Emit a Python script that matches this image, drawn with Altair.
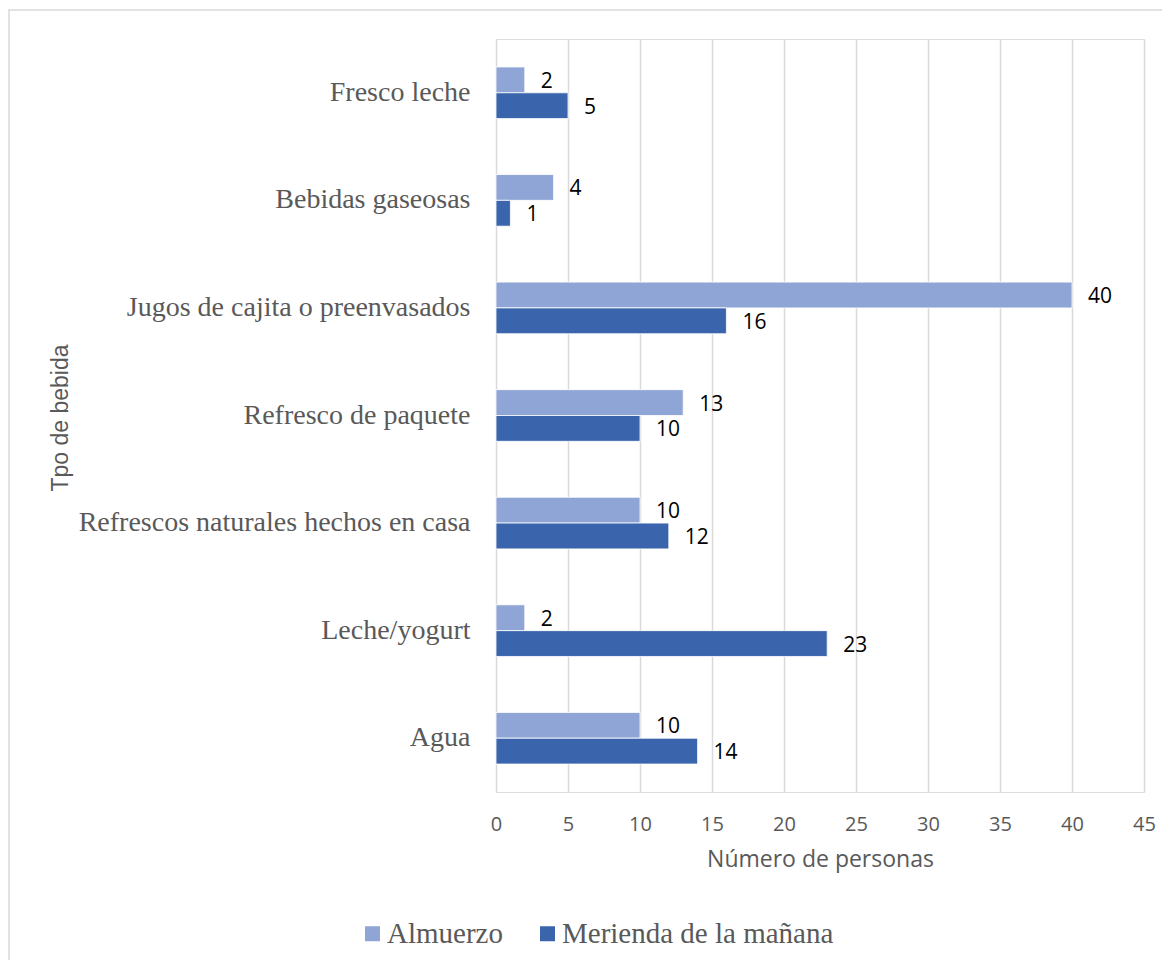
import altair as alt
import pandas as pd

categories = ["Fresco leche", "Bebidas gaseosas", "Jugos de cajita o preenvasados",
              "Refresco de paquete ", "Refrescos naturales hechos en casa",
              "Leche/yogurt", "Agua"]
series = ["Almuerzo", "Merienda de la mañana"]
almuerzo = [2, 4, 40, 13, 10, 2, 10]
merienda = [5, 1, 16, 10, 12, 23, 14]
colors = ["#8FA5D5", "#3A64AC"]

rows = []
for c, a, m in zip(categories, almuerzo, merienda):
    rows.append({"cat": c, "serie": series[0], "val": a})
    rows.append({"cat": c, "serie": series[1], "val": m})
df = pd.DataFrame(rows)

W, H = 648, 753
PL, PT = 488, 31

y_enc = alt.Y("cat:N", sort=categories,
              scale=alt.Scale(paddingInner=0.52, paddingOuter=0.26),
              axis=alt.Axis(title="Tpo de bebida", labelFont="Liberation Serif",
                            labelFontSize=28, labelColor="#595959", labelPadding=26,
                            ticks=False, domain=False, labelLimit=600,
                            titleFont="Liberation Sans", titleFontSize=23,
                            titleFontWeight="normal", titleColor="#595959",
                            titleX=-436, titleY=H / 2 + 2, titleAngle=-90,
                            titleAlign="center", titleBaseline="middle"))
yoff = alt.YOffset("serie:N", sort=series, scale=alt.Scale(paddingInner=0, paddingOuter=0))
x_enc = alt.X("val:Q", scale=alt.Scale(domain=[0, 45]),
              axis=alt.Axis(values=list(range(0, 50, 5)), title="Número de personas",
                            labelFont="Open Sans", labelFontSize=20, labelColor="#595959",
                            labelPadding=22, labelFlush=False, ticks=False, domain=False,
                            gridColor="#d9d9d9", gridWidth=1.5,
                            titleFont="Open Sans", titleFontSize=23,
                            titleFontWeight="normal", titleColor="#595959",
                            titlePadding=14))
color_enc = alt.Color("serie:N", sort=series,
                      scale=alt.Scale(domain=series, range=colors),
                      legend=alt.Legend(title=None, orient="none", direction="horizontal",
                                        legendX=-138, legendY=880,
                                        symbolType="square", symbolSize=225,
                                        symbolStrokeWidth=0, symbolOpacity=1,
                                        labelFont="Liberation Serif", labelFontSize=29,
                                        labelColor="#595959", labelOffset=0,
                                        labelLimit=500, columnPadding=30))

base = alt.Chart(df)
bars = base.mark_bar(stroke="white", strokeWidth=0.8).encode(
    x=x_enc, y=y_enc, yOffset=yoff, color=color_enc)
labels = base.mark_text(align="left", baseline="middle", dx=16, dy=2,
                        font="Open Sans", fontSize=21, color="black").encode(
    x="val:Q", y=alt.Y("cat:N", sort=categories), yOffset=yoff, text="val:Q")

frame = alt.Chart(pd.DataFrame({"k": [0]})).mark_rect(
    fill=None, stroke="#d9d9d9", strokeWidth=1.5).encode(
    x=alt.value(-487), x2=alt.value(690), y=alt.value(-29), y2=alt.value(945))

chart = alt.layer(frame, bars, labels).properties(
    width=W, height=H,
    autosize=alt.AutoSizeParams(type="none"),
    padding={"left": PL, "top": PT, "right": 1154 - PL - W, "bottom": 952 - PT - H},
).configure_view(stroke=None).configure(background="white")

chart.save("out.html", embed_options={"renderer": "svg", "actions": False})
